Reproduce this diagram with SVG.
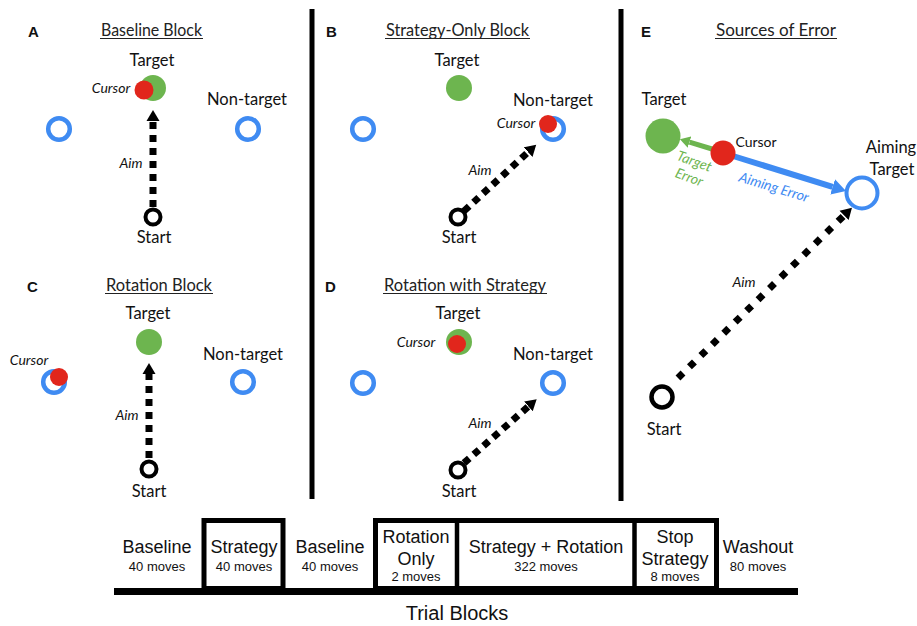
<svg xmlns="http://www.w3.org/2000/svg" width="917" height="626" viewBox="0 0 917 626">
<style>
.lbl{font-family:Lato,"Open Sans","DejaVu Sans",sans-serif;font-size:16.5px;fill:#111;text-anchor:middle}
.it{font-family:Lato,"Open Sans","DejaVu Sans",sans-serif;font-size:14px;font-style:italic;fill:#111;text-anchor:middle}
.hd{font-family:Lato,"Open Sans","DejaVu Sans",sans-serif;font-size:16.5px;fill:#222;text-anchor:middle}
.ul{stroke:#222;stroke-width:1.2}
.let{font-family:"Liberation Sans",Arial,sans-serif;font-size:15px;font-weight:bold;fill:#111}
.ring{fill:none;stroke:#3f8bf2;stroke-width:4.5}
.start{fill:none;stroke:#000;stroke-width:4}
.tgt{fill:#6db54f}
.cur{fill:#e1261c}
.aim{fill:none;stroke:#000;stroke-width:7;stroke-dasharray:7 6}
.div{stroke:#000;stroke-width:5}
.tb{font-family:"Liberation Sans",Arial,sans-serif;fill:#111;text-anchor:middle}
.big{font-size:18px}
.sm{font-size:13px}
.box{fill:none;stroke:#000;stroke-width:5}
</style>
<defs>
<marker id="ah" markerUnits="userSpaceOnUse" markerWidth="12" markerHeight="14" refX="0" refY="7" orient="auto" viewBox="0 0 12 14"><path d="M0,0.5 L11,7 L0,13.5 z" fill="#000"/></marker>
<marker id="ahg" markerUnits="userSpaceOnUse" markerWidth="11" markerHeight="12" refX="0" refY="6" orient="auto" viewBox="0 0 11 12"><path d="M0,0 L10,6 L0,12 z" fill="#6db54f"/></marker>
<marker id="ahb" markerUnits="userSpaceOnUse" markerWidth="15" markerHeight="16" refX="0" refY="8" orient="auto" viewBox="0 0 15 16"><path d="M0,0 L14,8 L0,16 z" fill="#3f8bf2"/></marker>
</defs>
<rect width="917" height="626" fill="#fff"/>

<line class="div" x1="312" y1="9" x2="312" y2="499"/>
<line class="div" x1="621" y1="9" x2="621" y2="501"/>

<g id="connectors">
<path class="aim" d="M153,207 L153,121" marker-end="url(#ah)"/>
<path class="aim" d="M464,211 L528.1,152.1" marker-end="url(#ah)"/>
<path class="aim" d="M149,458 L149,374" marker-end="url(#ah)"/>
<path class="aim" d="M464,463 L528.4,406.4" marker-end="url(#ah)"/>
<path class="aim" style="stroke-dasharray:7 9" d="M678,378 L844.1,215.4" marker-end="url(#ah)"/>
<path d="M712,149 L689.5,142.1" stroke="#6db54f" stroke-width="5" fill="none" marker-end="url(#ahg)"/>
<path d="M733,156 L832.6,186.9" stroke="#3f8bf2" stroke-width="6" fill="none" marker-end="url(#ahb)"/>
</g>

<g id="panelA">
<text class="let" x="28" y="37">A</text>
<text class="hd" x="151.5" y="36" textLength="101" lengthAdjust="spacingAndGlyphs">Baseline Block</text>
<line class="ul" x1="100" y1="38.5" x2="203" y2="38.5"/>
<g id="A-target"><text class="lbl" x="152" y="66">Target</text><circle class="tgt" cx="153" cy="88" r="13"/></g>
<g id="A-cursor"><circle class="cur" cx="144" cy="90" r="9.5"/><text class="it" x="111" y="93">Cursor</text></g>
<g id="A-nontarget"><text class="lbl" x="247" y="105">Non-target</text><circle class="ring" cx="248" cy="129" r="10.8"/></g>
<g id="A-left"><circle class="ring" cx="59" cy="129" r="10.8"/></g>
<g id="A-start"><circle class="start" cx="153" cy="217" r="7.5"/><text class="lbl" x="154" y="243">Start</text></g>
<text class="it" x="131" y="168">Aim</text>
</g>

<g id="panelB">
<text class="let" x="326" y="37">B</text>
<text class="hd" x="457.5" y="36" textLength="143" lengthAdjust="spacingAndGlyphs">Strategy-Only Block</text>
<line class="ul" x1="385" y1="38.5" x2="530" y2="38.5"/>
<g id="B-target"><text class="lbl" x="457" y="66">Target</text><circle class="tgt" cx="459" cy="88" r="13"/></g>
<g id="B-nontarget"><text class="lbl" x="553" y="106">Non-target</text><circle class="ring" cx="553" cy="129" r="10.8"/></g>
<g id="B-cursor"><circle class="cur" cx="548" cy="124" r="9"/><text class="it" x="516" y="128">Cursor</text></g>
<g id="B-left"><circle class="ring" cx="363" cy="129" r="10.8"/></g>
<g id="B-start"><circle class="start" cx="458" cy="217" r="7.5"/><text class="lbl" x="459" y="243">Start</text></g>
<text class="it" x="480" y="175">Aim</text>
</g>

<g id="panelC">
<text class="let" x="27" y="292">C</text>
<text class="hd" x="159" y="291" textLength="106" lengthAdjust="spacingAndGlyphs">Rotation Block</text>
<line class="ul" x1="105" y1="293.5" x2="213" y2="293.5"/>
<g id="C-target"><text class="lbl" x="148" y="319">Target</text><circle class="tgt" cx="149" cy="342" r="13"/></g>
<g id="C-nontarget"><text class="lbl" x="243" y="360">Non-target</text><circle class="ring" cx="243" cy="382" r="10.8"/></g>
<g id="C-left"><circle class="ring" cx="54" cy="382" r="10.8"/></g>
<g id="C-cursor"><circle class="cur" cx="59" cy="377" r="9"/><text class="it" x="29" y="365">Cursor</text></g>
<g id="C-start"><circle class="start" cx="149" cy="469" r="7.5"/><text class="lbl" x="149" y="497">Start</text></g>
<text class="it" x="127" y="420">Aim</text>
</g>

<g id="panelD">
<text class="let" x="325" y="292">D</text>
<text class="hd" x="465" y="291" textLength="162" lengthAdjust="spacingAndGlyphs">Rotation with Strategy</text>
<line class="ul" x1="383" y1="293.5" x2="547" y2="293.5"/>
<g id="D-target"><text class="lbl" x="458" y="319">Target</text><circle class="tgt" cx="459" cy="342" r="13"/></g>
<g id="D-cursor"><circle class="cur" cx="457" cy="344" r="9"/><text class="it" x="416" y="347">Cursor</text></g>
<g id="D-nontarget"><text class="lbl" x="553" y="360">Non-target</text><circle class="ring" cx="553" cy="383" r="10.8"/></g>
<g id="D-left"><circle class="ring" cx="363" cy="383" r="10.8"/></g>
<g id="D-start"><circle class="start" cx="458" cy="470" r="7.5"/><text class="lbl" x="459" y="497">Start</text></g>
<text class="it" x="480" y="428">Aim</text>
</g>

<g id="panelE">
<text class="let" x="641" y="37">E</text>
<text class="hd" x="776" y="36" textLength="120" lengthAdjust="spacingAndGlyphs">Sources of Error</text>
<line class="ul" x1="715" y1="38.5" x2="837" y2="38.5"/>
<g id="E-target"><text class="lbl" x="664" y="105">Target</text><circle class="tgt" cx="663" cy="136" r="17.5"/></g>
<g id="E-cursor"><circle class="cur" cx="723" cy="153" r="12.5"/><text class="lbl" style="font-size:14px" x="756" y="147">Cursor</text></g>
<g id="E-aiming"><text class="lbl" x="891" y="153">Aiming</text><text class="lbl" x="892" y="175">Target</text><circle class="ring" style="stroke-width:4" cx="862" cy="193" r="15.5"/></g>
<g id="E-start"><circle class="start" style="stroke-width:4.5" cx="662" cy="397" r="10.5"/><text class="lbl" x="664" y="435">Start</text></g>
<text class="it" style="fill:#6db54f" transform="rotate(20 694 162)" x="694" y="166">Target</text>
<text class="it" style="fill:#6db54f" transform="rotate(20 689 178)" x="689" y="182">Error</text>
<text class="it" style="fill:#3f8bf2" transform="rotate(17 774 187)" x="774" y="192">Aiming Error</text>
<text class="it" x="744" y="287">Aim</text>
</g>

<g id="timeline">
<line x1="114" y1="591.5" x2="798" y2="591.5" stroke="#000" stroke-width="7"/>
<rect class="box" x="204" y="520.5" width="79" height="68"/>
<rect class="box" x="375.5" y="520.5" width="341" height="68"/>
<line x1="457" y1="520" x2="457" y2="589" stroke="#000" stroke-width="4.5"/>
<line x1="634.5" y1="520" x2="634.5" y2="589" stroke="#000" stroke-width="4.5"/>
<g id="tb1"><text class="tb big" x="157" y="553">Baseline</text><text class="tb sm" x="157" y="571">40 moves</text></g>
<g id="tb2"><text class="tb big" x="244" y="553">Strategy</text><text class="tb sm" x="244" y="571">40 moves</text></g>
<g id="tb3"><text class="tb big" x="330" y="553">Baseline</text><text class="tb sm" x="330" y="571">40 moves</text></g>
<g id="tb4"><text class="tb big" x="416" y="543">Rotation</text><text class="tb big" x="416" y="565">Only</text><text class="tb sm" x="416" y="581">2 moves</text></g>
<g id="tb5"><text class="tb big" x="546" y="553">Strategy + Rotation</text><text class="tb sm" x="546" y="571">322 moves</text></g>
<g id="tb6"><text class="tb big" x="675" y="543">Stop</text><text class="tb big" x="675" y="565">Strategy</text><text class="tb sm" x="675" y="581">8 moves</text></g>
<g id="tb7"><text class="tb big" x="758" y="553">Washout</text><text class="tb sm" x="758" y="571">80 moves</text></g>
<text class="tb" style="font-size:20px" x="457" y="620">Trial Blocks</text>
</g>
</svg>
